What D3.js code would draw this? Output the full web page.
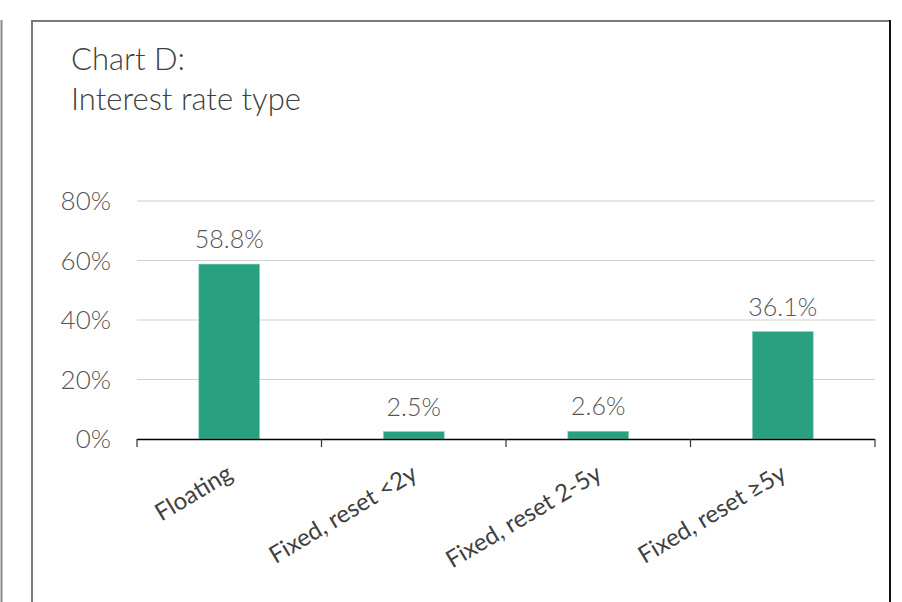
<!DOCTYPE html>
<html><head><meta charset="utf-8">
<script src="https://cdn.jsdelivr.net/npm/d3@7"></script>
<style>body{margin:0;background:#fff}svg{display:block}</style>
</head><body>
<script>
const categories = ["Floating", "Fixed, reset <2y", "Fixed, reset 2-5y", "Fixed, reset \u22655y"];
const values = [58.8, 2.5, 2.6, 36.1];
const valueLabels = ["58.8%", "2.5%", "2.6%", "36.1%"];
const yTicks = [0, 20, 40, 60, 80];
const titleLines = ["Chart D:", "Interest rate type"];

const W = 902, H = 602;
const svg = d3.select("body").append("svg").attr("width", W).attr("height", H);
const font = "Lato, 'Open Sans', sans-serif";

// outer decorations
svg.append("line").attr("x1", 1.5).attr("x2", 1.5).attr("y1", 20).attr("y2", H).attr("stroke", "#8a8a8a").attr("stroke-width", 2);
svg.append("path").attr("d", `M32,${H} V21 H890`).attr("fill", "none").attr("stroke", "#7a7a7a").attr("stroke-width", 2);
svg.append("line").attr("x1", 890).attr("x2", 890).attr("y1", 20).attr("y2", H).attr("stroke", "#111").attr("stroke-width", 2);

// title
svg.append("g").selectAll("text").data(titleLines).join("text")
  .attr("x", 71).attr("y", (d, i) => 70 + i * 40)
  .attr("font-family", font).attr("font-weight", 300).attr("font-size", 31)
  .attr("fill", "#404040").text(d => d);

const x = d3.scaleBand().domain(categories).range([137, 875]).paddingInner(0.67).paddingOuter(0.335);
const xb = d3.scaleBand().domain(categories).range([137, 875]);
const y = d3.scaleLinear().domain([0, 80]).range([439, 201]);

// gridlines
svg.append("g").selectAll("line").data(yTicks.filter(t => t > 0)).join("line")
  .attr("x1", 137).attr("x2", 875).attr("y1", d => y(d)).attr("y2", d => y(d))
  .attr("stroke", "#d0d0d0").attr("stroke-width", 1.2);

// y labels
svg.append("g").selectAll("text").data(yTicks).join("text")
  .attr("x", 111).attr("y", d => y(d)).attr("dy", "0.36em").attr("text-anchor", "end")
  .attr("font-family", font).attr("font-weight", 300).attr("font-size", 26).attr("fill", "#555")
  .text(d => d + "%");

// bars
svg.append("g").selectAll("rect").data(values).join("rect")
  .attr("x", (d, i) => x(categories[i])).attr("width", x.bandwidth())
  .attr("y", d => y(d)).attr("height", d => y(0) - y(d))
  .attr("fill", "#29a080").attr("stroke", "#8fd3c0").attr("stroke-width", 0.6);

// value labels
svg.append("g").selectAll("text").data(values).join("text")
  .attr("x", (d, i) => x(categories[i]) + x.bandwidth() / 2).attr("y", d => y(d) - 16)
  .attr("text-anchor", "middle")
  .attr("font-family", font).attr("font-weight", 300).attr("font-size", 25).attr("fill", "#555")
  .text((d, i) => valueLabels[i]);

// x axis
const bounds = categories.map(c => xb(c)).concat([875]);
svg.append("line").attr("x1", 137).attr("x2", 875).attr("y1", 439.5).attr("y2", 439.5).attr("stroke", "#000").attr("stroke-width", 1.3);
svg.append("g").selectAll("line").data(bounds).join("line")
  .attr("x1", d => d).attr("x2", d => d).attr("y1", 439).attr("y2", 447)
  .attr("stroke", "#333").attr("stroke-width", 1.2);

// x labels
svg.append("g").selectAll("text").data(categories).join("text")
  .attr("transform", d => `translate(${xb(d) + xb.bandwidth() / 2 + 5},478) rotate(-31)`)
  .attr("text-anchor", "end")
  .attr("font-family", font).attr("font-size", 24).attr("fill", "#404040")
  .text(d => d);
</script>
</body></html>
